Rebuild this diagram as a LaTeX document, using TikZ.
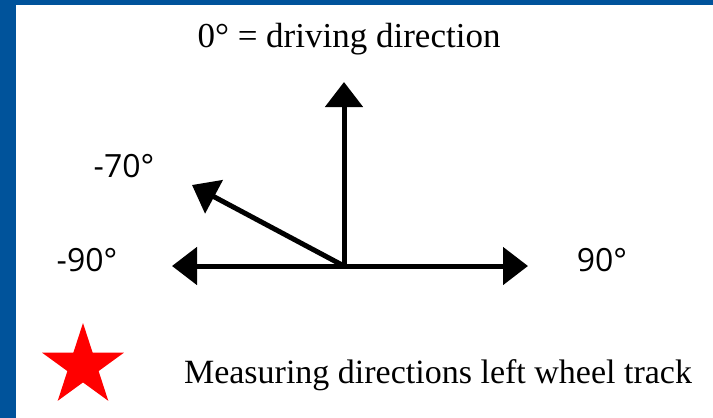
\documentclass[tikz,border=0pt]{standalone}
\usepackage{fontspec}
\setmainfont{Liberation Serif}
\newfontfamily\anglefont{Open Sans}
\usepackage{tikz}
\usetikzlibrary{arrows.meta,shapes.geometric}
\definecolor{frameblue}{RGB}{0,83,155}

\begin{document}
\begin{tikzpicture}[x=0.5pt,y=-0.5pt,
    dir/.style={line width=2.5pt, -{Triangle[length=12.5pt,width=18.5pt]}},
    anglelabel/.style={anchor=base, inner sep=0pt, font=\anglefont\fontsize{16}{18}\selectfont},
    caption/.style={anchor=base, inner sep=0pt, font=\fontsize{17.5}{20}\selectfont}]
    \useasboundingbox (0, 0) rectangle (713, 418);
    \fill[frameblue] (0, 0) rectangle (713, 5);
    \fill[frameblue] (0, 0) rectangle (16, 418);

    \coordinate (o) at (344, 266);
    \coordinate (ahead) at (344, 82);
    \coordinate (west) at (172, 266);
    \coordinate (east) at (528, 266);
    \coordinate (slant) at (192, 185);

    \draw[dir] (o) -- (ahead);
    \draw[dir] (o) -- (slant);
    \draw[dir] (o) -- (west);
    \draw[dir] (o) -- (east);

    \node[caption] (drive) at (349, 47) {0° = driving direction};
    \node[anglelabel] (m70) at (124, 177) {-70°};
    \node[anglelabel] (m90) at (87, 271) {-90°};
    \node[anglelabel] (p90) at (602, 271) {90°};

    \node[star, star points=5, star point ratio=2.618, fill=red, inner sep=0pt, minimum size=43pt] (mark) at (83, 366) {};
    \node[caption, font=\fontsize{17}{20}\selectfont] (legend) at (438, 383) {Measuring directions left wheel track};
\end{tikzpicture}
\end{document}
